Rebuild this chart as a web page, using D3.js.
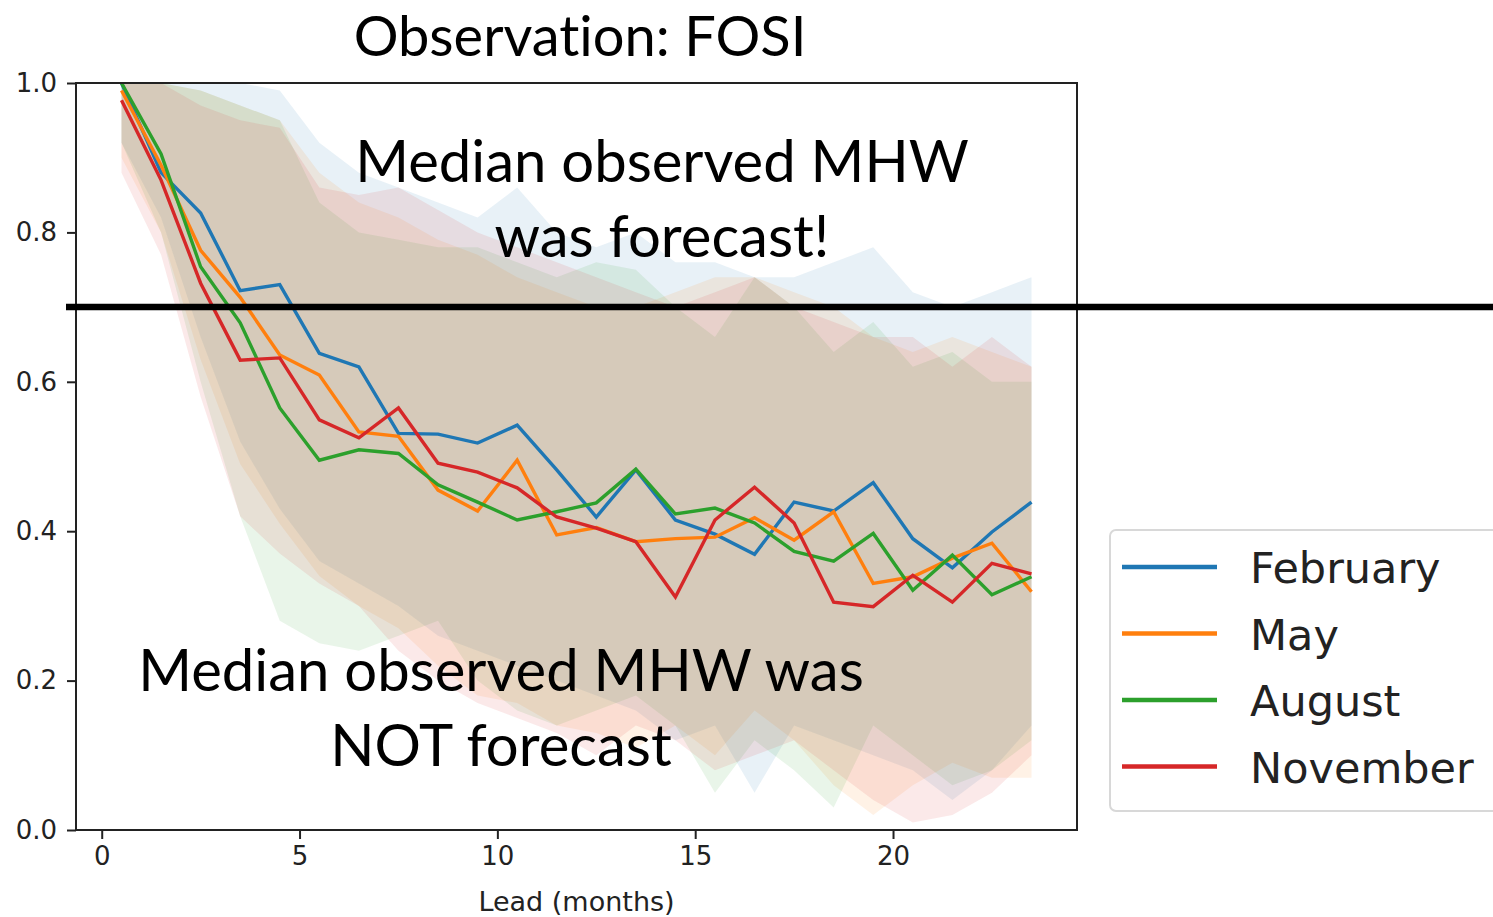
<!DOCTYPE html>
<html>
<head>
<meta charset="utf-8">
<script src="https://cdn.jsdelivr.net/npm/d3@7/dist/d3.min.js"></script>
<style>
	body { margin: 0; background: #fff; }
	text { font-variant-ligatures: none; }
</style>
</head>
<body>
<div id="chart"></div>
<script>
// Set up SVG
let width = 1493;
let height = 917;

// Data
const leads = [0.5, 1.5, 2.5, 3.5, 4.5, 5.5, 6.5, 7.5, 8.5, 9.5, 10.5, 11.5,
	12.5, 13.5, 14.5, 15.5, 16.5, 17.5, 18.5, 19.5, 20.5, 21.5, 22.5, 23.5];
const months = ['February', 'May', 'August', 'November'];
const colors = ['#1f77b4', '#ff7f0e', '#2ca02c', '#d62728'];

const febMedian = [1.00, 0.88, 0.826, 0.722, 0.73, 0.638, 0.62, 0.531, 0.53, 0.518, 0.542, 0.482,
	0.419, 0.482, 0.415, 0.396, 0.369, 0.439, 0.427, 0.465, 0.39, 0.351, 0.399, 0.439];
const mayMedian = [0.99, 0.89, 0.776, 0.713, 0.636, 0.609, 0.533, 0.527, 0.455, 0.427, 0.495, 0.395,
	0.405, 0.386, 0.39, 0.392, 0.418, 0.388, 0.426, 0.33, 0.339, 0.364, 0.384, 0.319];
const augMedian = [1.00, 0.905, 0.754, 0.679, 0.565, 0.495, 0.509, 0.504, 0.462, 0.439, 0.415, 0.426,
	0.438, 0.483, 0.423, 0.431, 0.411, 0.373, 0.36, 0.397, 0.321, 0.368, 0.315, 0.339];
const novMedian = [0.977, 0.87, 0.732, 0.629, 0.632, 0.549, 0.525, 0.565, 0.491, 0.479, 0.458, 0.419,
	0.404, 0.386, 0.312, 0.415, 0.459, 0.411, 0.305, 0.299, 0.341, 0.305, 0.357, 0.343];

const febHigh = [1.00, 1.00, 1.00, 1.00, 0.99, 0.92, 0.88, 0.86, 0.84, 0.82, 0.86, 0.80,
	0.78, 0.80, 0.76, 0.76, 0.74, 0.74, 0.76, 0.78, 0.72, 0.70, 0.72, 0.74];
const mayHigh = [1.00, 1.00, 0.99, 0.97, 0.95, 0.88, 0.84, 0.82, 0.79, 0.77, 0.74, 0.72,
	0.70, 0.70, 0.72, 0.74, 0.74, 0.72, 0.70, 0.66, 0.64, 0.66, 0.64, 0.62];
const augHigh = [1.00, 1.00, 0.99, 0.97, 0.95, 0.84, 0.80, 0.79, 0.78, 0.78, 0.76, 0.74,
	0.76, 0.75, 0.70, 0.66, 0.74, 0.70, 0.64, 0.68, 0.62, 0.64, 0.60, 0.60];
const novHigh = [1.00, 1.00, 0.97, 0.95, 0.94, 0.86, 0.85, 0.86, 0.83, 0.80, 0.78, 0.76,
	0.74, 0.72, 0.70, 0.72, 0.74, 0.70, 0.68, 0.66, 0.66, 0.62, 0.66, 0.62];

const febLow = [0.92, 0.82, 0.66, 0.52, 0.43, 0.36, 0.33, 0.30, 0.26, 0.24, 0.22, 0.20,
	0.18, 0.16, 0.12, 0.14, 0.05, 0.14, 0.12, 0.10, 0.08, 0.04, 0.08, 0.14];
const mayLow = [0.90, 0.80, 0.63, 0.49, 0.41, 0.34, 0.30, 0.27, 0.22, 0.18, 0.17, 0.14,
	0.13, 0.11, 0.14, 0.10, 0.16, 0.12, 0.06, 0.02, 0.06, 0.09, 0.07, 0.07];
const augLow = [0.92, 0.80, 0.60, 0.42, 0.28, 0.25, 0.24, 0.26, 0.28, 0.20, 0.16, 0.14,
	0.16, 0.18, 0.14, 0.05, 0.12, 0.08, 0.03, 0.14, 0.10, 0.06, 0.08, 0.12];
const novLow = [0.88, 0.77, 0.58, 0.42, 0.37, 0.33, 0.30, 0.24, 0.20, 0.17, 0.15, 0.13,
	0.10, 0.14, 0.12, 0.08, 0.10, 0.12, 0.08, 0.04, 0.01, 0.02, 0.05, 0.10];

const medians = [febMedian, mayMedian, augMedian, novMedian];
const highs = [febHigh, mayHigh, augHigh, novHigh];
const lows = [febLow, mayLow, augLow, novLow];

const xTicks = [0, 5, 10, 15, 20];
const yTicks = [0.0, 0.2, 0.4, 0.6, 0.8, 1.0];
const threshold = 0.7;

let svg = d3.select('#chart')
	.append('svg')
	.attr('width', width)
	.attr('height', height)
	.style('font-family', 'DejaVu Sans, sans-serif');

// Scales
let x = d3.scaleLinear().domain([-0.65, 24.65]).range([76, 1077]);
let y = d3.scaleLinear().domain([0, 1]).range([830, 83]);

// Shaded spread bands
for (let s = 0; s < months.length; s++) {
	let area = d3.area()
		.x(function(d, i) { return x(leads[i]); })
		.y0(function(d, i) { return y(lows[s][i]); })
		.y1(function(d, i) { return y(highs[s][i]); });
	svg.append('path')
		.datum(leads)
		.attr('d', area)
		.attr('fill', colors[s])
		.attr('fill-opacity', 0.1);
}

// Median lines
for (let s = 0; s < months.length; s++) {
	let line = d3.line()
		.x(function(d, i) { return x(leads[i]); })
		.y(function(d) { return y(d); });
	svg.append('path')
		.datum(medians[s])
		.attr('d', line)
		.attr('fill', 'none')
		.attr('stroke', colors[s])
		.attr('stroke-width', 3.4);
}

// Axes
let xAxis = svg.append('g')
	.attr('transform', 'translate(0,' + y(0) + ')')
	.call(d3.axisBottom(x).tickValues(xTicks).tickSize(9).tickPadding(8));
let yAxis = svg.append('g')
	.attr('transform', 'translate(' + x(-0.65) + ',0)')
	.call(d3.axisLeft(y).tickValues(yTicks).tickFormat(d3.format('.1f')).tickSize(9).tickPadding(10));

[xAxis, yAxis].forEach(function(ax) {
	ax.select('.domain').remove();
	ax.selectAll('line').attr('stroke', '#222').attr('stroke-width', 2);
	ax.selectAll('text')
		.attr('fill', '#222')
		.style('font-family', 'DejaVu Sans, sans-serif')
		.style('font-size', '26px');
});

// Frame
svg.append('rect')
	.attr('x', x(-0.65))
	.attr('y', y(1))
	.attr('width', x(24.65) - x(-0.65))
	.attr('height', y(0) - y(1))
	.attr('fill', 'none')
	.attr('stroke', '#222')
	.attr('stroke-width', 2);

svg.append('text')
	.attr('x', (x(-0.65) + x(24.65)) / 2)
	.attr('y', 911)
	.attr('text-anchor', 'middle')
	.attr('fill', '#222')
	.style('font-size', '27px')
	.text('Lead (months)');

// Threshold line
svg.append('line')
	.attr('x1', 66)
	.attr('x2', width)
	.attr('y1', y(threshold))
	.attr('y2', y(threshold))
	.attr('stroke', '#000')
	.attr('stroke-width', 6.5);

// Title and annotations
let notes = [
	['Observation: FOSI', 580, 56, 56],
	['Median observed MHW', 662, 182, 58],
	['was forecast!', 662, 257, 58],
	['Median observed MHW was', 501, 691, 58],
	['NOT forecast', 501, 766, 58]
];
for (let i = 0; i < notes.length; i++) {
	svg.append('text')
		.attr('x', notes[i][1])
		.attr('y', notes[i][2])
		.attr('text-anchor', 'middle')
		.attr('fill', '#000')
		.style('font-family', 'Lato, sans-serif')
		.style('font-size', notes[i][3] + 'px')
		.text(notes[i][0]);
}

// Legend
svg.append('rect')
	.attr('x', 1110)
	.attr('y', 530)
	.attr('width', 400)
	.attr('height', 281)
	.attr('rx', 6)
	.attr('fill', '#fff')
	.attr('fill-opacity', 0.8)
	.attr('stroke', '#d8d8d8')
	.attr('stroke-width', 2);

for (let s = 0; s < months.length; s++) {
	let ly = 567 + s * 66.5;
	svg.append('line')
		.attr('x1', 1122)
		.attr('x2', 1217)
		.attr('y1', ly)
		.attr('y2', ly)
		.attr('stroke', colors[s])
		.attr('stroke-width', 4.5);
	svg.append('text')
		.attr('x', 1250)
		.attr('y', ly + 16)
		.attr('fill', '#222')
		.style('font-size', '43px')
		.text(months[s]);
}
</script>
</body>
</html>
